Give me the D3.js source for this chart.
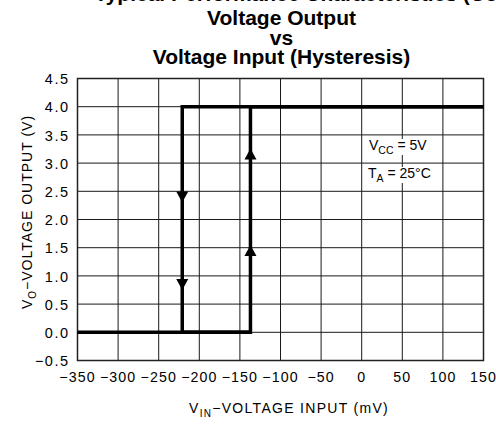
<!DOCTYPE html>
<html>
<head>
<meta charset="utf-8">
<script src="https://cdn.jsdelivr.net/npm/d3@7"></script>
<style>
  html, body { margin: 0; padding: 0; background: #fff; }
  svg { display: block; }
</style>
</head>
<body>
<svg id="chart" width="496" height="427"></svg>
<script>
// ---- data ----
const titleLines = ["Voltage Output", "vs", "Voltage Input (Hysteresis)"];
const headerText = "Typical Performance Characteristics (Continued)";
const xTicks = [-350, -300, -250, -200, -150, -100, -50, 0, 50, 100, 150];
const yTicks = [-0.5, 0.0, 0.5, 1.0, 1.5, 2.0, 2.5, 3.0, 3.5, 4.0, 4.5];
// rising input path (output switches high at about -137 mV)
const risingVin = [-350, -137, -137, 150];
const risingVo  = [0, 0, 4.0, 4.0];
// falling input path (output switches low at about -221 mV)
const fallingVin = [150, -221, -221, -137];
const fallingVo  = [4.0, 4.0, 0, 0];
// arrow heads: position of tip, direction
const arrowVin = [-221, -221, -137, -137];
const arrowVo  = [2.30, 0.75, 3.26, 1.55];
const arrowDir = ["down", "down", "up", "up"];
const noteLines = [
  {main: "V", sub: "CC", rest: " = 5V"},
  {main: "T", sub: "A", rest: " = 25°C"}
];

// ---- layout ----
const svg = d3.select("#chart");
const x = d3.scaleLinear().domain([-350, 150]).range([77.5, 483.5]);
const y = d3.scaleLinear().domain([-0.5, 4.5]).range([360.5, 78.5]);
const tickFont = "'Liberation Sans', Arial, sans-serif";
const fmtNum = v => (v < 0 ? "\u2212" : "") + Math.abs(v).toString();
const fmtY = v => (v < 0 ? "\u2212" : "") + Math.abs(v).toFixed(1);

// clipped header at top (only the bottom of the glyphs shows)
const hdr = svg.append("text")
  .attr("y", 1)
  .attr("font-family", "'Liberation Sans', Arial, sans-serif")
  .attr("font-weight", "bold")
  .attr("font-size", 21)
  .attr("fill", "#000")
  .text(headerText);
{
  const tmp = svg.append("text").attr("font-family", "'Liberation Sans', Arial, sans-serif")
    .attr("font-weight", "bold").attr("font-size", 21).text("Typical Performance Characteristics ");
  const w = tmp.node().getComputedTextLength();
  tmp.remove();
  hdr.attr("x", 457 - w);
}

// title
const titleY = [25, 44.5, 63.5];
svg.append("g").selectAll("text").data(titleLines).join("text")
  .attr("x", 281.5)
  .attr("y", (d, i) => titleY[i])
  .attr("text-anchor", "middle")
  .attr("font-family", "'Liberation Sans', Arial, sans-serif")
  .attr("font-weight", "bold")
  .attr("font-size", 21)
  .attr("fill", "#000")
  .text(d => d);

// grid
const grid = svg.append("g");
grid.selectAll("line.v").data(xTicks).join("line")
  .attr("class", "v")
  .attr("x1", d => x(d)).attr("x2", d => x(d))
  .attr("y1", y(4.5)).attr("y2", y(-0.5))
  .attr("stroke", "#1a1a1a").attr("stroke-width", 1);
grid.selectAll("line.h").data(yTicks).join("line")
  .attr("class", "h")
  .attr("x1", x(-350)).attr("x2", x(150))
  .attr("y1", d => y(d)).attr("y2", d => y(d))
  .attr("stroke", "#1a1a1a").attr("stroke-width", 1);
svg.append("rect")
  .attr("x", x(-350)).attr("y", y(4.5))
  .attr("width", x(150) - x(-350)).attr("height", y(-0.5) - y(4.5))
  .attr("fill", "none").attr("stroke", "#222").attr("stroke-width", 1.5);

// axes via d3 axis (labels only)
const xAxis = d3.axisBottom(x).tickValues(xTicks).tickFormat(fmtNum).tickSize(0).tickPadding(0);
const gx = svg.append("g").attr("transform", `translate(0,${y(-0.5)})`).call(xAxis);
gx.select(".domain").remove();
gx.selectAll("text")
  .attr("y", 21).attr("dy", null).attr("dx", -0.5)
  .attr("font-family", tickFont).attr("font-size", 14.2)
  .attr("letter-spacing", 1.1)
  .attr("fill", "#000");

const yAxis = d3.axisLeft(y).tickValues(yTicks).tickFormat(fmtY).tickSize(0).tickPadding(0);
const gy = svg.append("g").attr("transform", `translate(${x(-350)},0)`).call(yAxis);
gy.select(".domain").remove();
gy.selectAll("text")
  .attr("x", -8).attr("dy", "0.36em")
  .attr("font-family", tickFont).attr("font-size", 14.5)
  .attr("letter-spacing", 1.5)
  .attr("fill", "#000");

// axis titles
const xt = svg.append("text")
  .attr("x", 289).attr("y", 413)
  .attr("text-anchor", "middle")
  .attr("font-family", tickFont).attr("font-size", 14).attr("letter-spacing", 1.3)
  .attr("fill", "#000");
xt.append("tspan").text("V");
xt.append("tspan").attr("font-size", 10).attr("dy", 4).text("IN");
xt.append("tspan").attr("dy", -4).text("\u2212VOLTAGE INPUT (mV)");

const yt = svg.append("text")
  .attr("transform", "translate(32,212) rotate(-90)")
  .attr("text-anchor", "middle")
  .attr("font-family", tickFont).attr("font-size", 14).attr("letter-spacing", 1)
  .attr("fill", "#000");
yt.append("tspan").text("V");
yt.append("tspan").attr("font-size", 10).attr("dy", 4).text("O");
yt.append("tspan").attr("dy", -4).text("\u2212VOLTAGE OUTPUT (V)");

// annotation
const noteX = [369, 368];
const noteY = [150, 178];
noteLines.forEach((n, i) => {
  const g = svg.append("g");
  const t = g.append("text")
    .attr("x", noteX[i]).attr("y", noteY[i])
    .attr("font-family", "'Liberation Sans', Arial, sans-serif")
    .attr("font-size", 14).attr("fill", "#000");
  t.append("tspan").text(n.main);
  t.append("tspan").attr("font-size", 10.5).attr("dy", 4).text(n.sub);
  t.append("tspan").attr("dy", -4).text(n.rest);
  const bb = t.node().getBBox();
  g.insert("rect", "text")
    .attr("x", bb.x + 1).attr("y", bb.y + 2)
    .attr("width", bb.width - 1).attr("height", bb.height - 3)
    .attr("fill", "#fff");
});

// data lines
const line = d3.line().x(d => x(d[0])).y(d => y(d[1]));
const rising = d3.zip(risingVin, risingVo);
const falling = d3.zip(fallingVin, fallingVo);
[rising, falling].forEach(pts => {
  svg.append("path").datum(pts)
    .attr("d", line)
    .attr("fill", "none")
    .attr("stroke", "#000")
    .attr("stroke-width", 3.5)
    .attr("stroke-linejoin", "miter");
});

// arrow heads
const arrows = arrowVin.map((v, i) => ({x: v, y: arrowVo[i], dir: arrowDir[i]}));
svg.append("g").selectAll("path").data(arrows).join("path")
  .attr("d", d => {
    const px = x(d.x), py = y(d.y);
    const h = 11, w = 6;
    const s = d.dir === "down" ? -1 : 1;
    return `M${px},${py} L${px - w},${py + s * h} L${px + w},${py + s * h} Z`;
  })
  .attr("fill", "#000");
</script>
</body>
</html>
